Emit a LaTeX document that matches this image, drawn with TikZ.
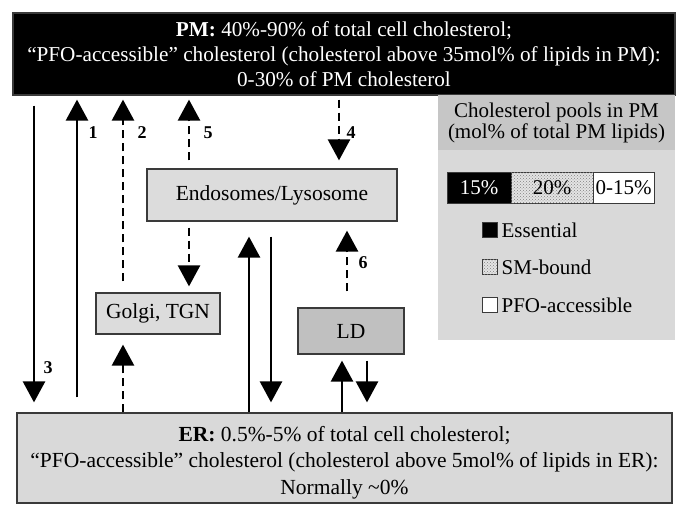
\documentclass[tikz,border=0pt]{standalone}
\usepackage{fontspec}
\setmainfont{Liberation Serif}
\usetikzlibrary{arrows.meta,positioning,patterns}
\definecolor{PoolDark}{HTML}{000000}
\definecolor{BoxLine}{HTML}{3A3A3A}
\definecolor{BoxFill}{HTML}{DCDCDC}
\definecolor{LDFill}{HTML}{C0C0C0}
\definecolor{LegHead}{HTML}{C6C6C6}
\definecolor{LegBody}{HTML}{D9D9D9}
\tikzset{>=Stealth,organelle/.style={draw=BoxLine,line width=1.2pt,fill=BoxFill,
 align=center,inner sep=0pt,font=\fontsize{21.5}{22}\selectfont},
 flow/.style={line width=2.6pt,-{Triangle[width=22pt,length=21pt]}},
 dflow/.style={flow,dash pattern=on 8pt off 5pt},
 num/.style={font=\fontsize{18}{18}\selectfont\bfseries},
 legbox/.style={draw=BoxLine,line width=.8pt,minimum size=15pt,inner sep=0pt},
 legtext/.style={font=\fontsize{21}{21}\selectfont}}
\begin{document}
\begin{tikzpicture}[x=1pt,y=-1pt]
\useasboundingbox (0,0) rectangle (689,519);
\node[organelle,fill=PoolDark,text=white,minimum width=662pt,minimum height=82pt,
 font=\fontsize{21.2}{25}\selectfont] (pm) at (344,54)
 {\textbf{PM:} 40\%-90\% of total cell cholesterol;\\
 ``PFO-accessible'' cholesterol (cholesterol above 35mol\% of lipids in PM):\\
 0-30\% of PM cholesterol};
\node[organelle,fill=LegBody,minimum width=655pt,minimum height=90pt,
 font=\fontsize{21.5}{26.5}\selectfont] (er) at (344.5,458)
 {\rule{0pt}{24pt}\textbf{ER:} 0.5\%-5\% of total cell cholesterol;\\
 ``PFO-accessible'' cholesterol (cholesterol above 5mol\% of lipids in ER):\\
 Normally \textasciitilde0\%};
\node[organelle,minimum width=250pt,minimum height=52pt] (endo) at (272,195) {Endosomes/Lysosome};
\node[organelle,minimum width=124pt,minimum height=41pt] (golgi) at (158,313.5) {Golgi, TGN};
\node[organelle,fill=LDFill,minimum width=106pt,minimum height=46pt] (ld) at (351,331) {LD};
% legend panel
\node[fill=LegBody,minimum width=237pt,minimum height=190pt] (legbody) at (556.5,245) {};
\node[fill=LegHead,minimum width=237pt,minimum height=55pt,align=center,inner sep=0pt,
 font=\fontsize{21}{21}\selectfont] (leghead) at (556.5,122.5)
 {Cholesterol pools in PM\\(mol\% of total PM lipids)};
\node[legbox,legtext,fill=black,text=white,minimum width=64pt,minimum height=31pt] (ess) at (479,187.5) {15\%};
\node[legbox,legtext,fill=LegBody!70!white,minimum width=82pt,minimum height=31pt,
 postaction={pattern=crosshatch dots,pattern color=gray}] (smb) at (552,187.5) {20\%};
\node[legbox,legtext,fill=white,minimum width=61pt,minimum height=31pt] (pfo) at (623.5,187.5) {0-15\%};
\node[legbox,fill=black] (kess) at (489.5,230) {};
\node[legbox,fill=LegBody!70!white,postaction={pattern=crosshatch dots,pattern color=gray}] (ksmb) at (489.5,267) {};
\node[legbox,fill=white] (kpfo) at (489.5,305) {};
\foreach \k/\lab in {kess/Essential,ksmb/SM-bound,kpfo/PFO-accessible}
 {\node[right=4pt of \k,inner sep=0pt,legtext] (t\k) {\lab};}
% arrow lanes
\coordinate (l3) at (34,0);
\coordinate (l1) at (77,0);
\coordinate (l2) at (123,0);
\coordinate (l5) at (189,0);
\coordinate (l4) at (339,0);
\coordinate (lup) at (249,0);
\coordinate (ldn) at (271,0);
\coordinate (l6) at (347,0);
\coordinate (ldup) at (342,0);
\coordinate (lddn) at (367,0);
\draw[flow,shorten <=10pt,shorten >=10pt] (pm.south -| l3) -- (er.north -| l3);
\draw[flow,shorten <=15pt,shorten >=4pt] (er.north -| l1) -- (pm.south -| l1);
\draw[dflow,shorten <=11pt,shorten >=4pt] (golgi.north -| l2) -- (pm.south -| l2);
\draw[dflow,shorten <=8pt,shorten >=4pt] (endo.north -| l5) -- (pm.south -| l5);
\draw[dflow,shorten <=4pt,shorten >=8pt] (pm.south -| l4) -- (endo.north -| l4);
\draw[dflow,shorten <=6pt,shorten >=6pt] (endo.south -| l5) -- (golgi.north -| l5);
\draw[dflow,shorten >=10pt] (er.north -| l2) -- (golgi.south -| l2);
\draw[flow,shorten >=15pt] (er.north -| lup) -- (endo.south -| lup);
\draw[flow,shorten <=15pt,shorten >=10pt] (endo.south -| ldn) -- (er.north -| ldn);
\draw[dflow,shorten <=16pt,shorten >=9pt] (ld.north -| l6) -- (endo.south -| l6);
\draw[flow,shorten >=6pt] (er.north -| ldup) -- (ld.south -| ldup);
\draw[flow,shorten <=6pt,shorten >=10pt] (ld.south -| lddn) -- (er.north -| lddn);
\foreach \n/\x/\y in {1/93/133,2/142/133,5/208/133,4/351/133,3/48/368,6/363/263}
 {\node[num] (n\n) at (\x,\y) {\n};}
\end{tikzpicture}
\end{document}
